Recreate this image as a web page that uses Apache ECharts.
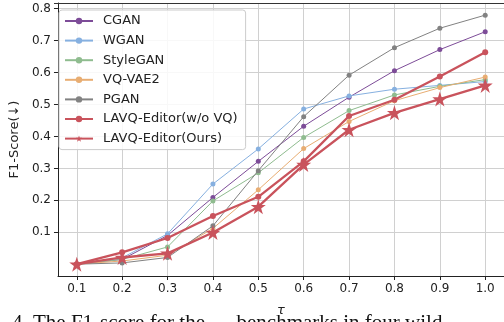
<!DOCTYPE html>
<html>
<head>
<meta charset="utf-8">
<script src="https://cdn.jsdelivr.net/npm/echarts@6/dist/echarts.min.js"></script>
<style>
  html, body { margin: 0; padding: 0; background: #fff; }
  #chart { width: 504px; height: 322px; }
</style>
</head>
<body>
<div id="chart"></div>
<script>
// tau values on the x axis
const taus = [0.1, 0.2, 0.3, 0.4, 0.5, 0.6, 0.7, 0.8, 0.9, 1.0];
const yTicks = [0.1, 0.2, 0.3, 0.4, 0.5, 0.6, 0.7, 0.8];

// F1-score per method
const cgan      = [0.0, 0.015, 0.090, 0.209, 0.322, 0.432, 0.523, 0.606, 0.672, 0.728];
const wgan      = [0.0, 0.020, 0.095, 0.251, 0.361, 0.486, 0.527, 0.548, 0.560, 0.572];
const stylegan  = [0.0, 0.015, 0.054, 0.198, 0.286, 0.397, 0.481, 0.530, 0.557, 0.578];
const vqvae2    = [0.0, 0.010, 0.028, 0.112, 0.233, 0.362, 0.447, 0.512, 0.553, 0.586];
const pgan      = [0.0, 0.004, 0.021, 0.120, 0.293, 0.462, 0.592, 0.678, 0.739, 0.780];
const lavqNoVq  = [0.0, 0.037, 0.082, 0.151, 0.211, 0.322, 0.464, 0.515, 0.588, 0.664];
const lavqOurs  = [0.0, 0.021, 0.034, 0.099, 0.180, 0.312, 0.421, 0.474, 0.517, 0.560];

const names = ['CGAN', 'WGAN', 'StyleGAN', 'VQ-VAE2', 'PGAN', 'LAVQ-Editor(w/o VQ)', 'LAVQ-Editor(Ours)'];
const values = [cgan, wgan, stylegan, vqvae2, pgan, lavqNoVq, lavqOurs];
const colors = ['#7d4c98', '#86b0e0', '#8fbc8f', '#e8ad72', '#828282', '#c9535c', '#c9535c'];

const font = 'DejaVu Sans';
const starPath = 'path://M50,0 L61.8,35.5 L100,35.5 L69.1,57.7 L80.9,93.3 L50,71.2 L19.1,93.3 L30.9,57.7 L0,35.5 L38.2,35.5 Z';

const series = names.map((name, i) => {
  const thick = i >= 5;
  const star = i === 6;
  return {
    name: name,
    type: 'line',
    data: taus.map((t, k) => [t, values[i][k]]),
    symbol: star ? starPath : 'circle',
    symbolSize: star ? 15 : (thick ? 6 : 5),
    showAllSymbol: true,
    lineStyle: { color: colors[i], width: thick ? 2.3 : 1 },
    itemStyle: { color: colors[i] },
    emphasis: { disabled: true },
    z: 2 + i
  };
});

const chart = echarts.init(document.getElementById('chart'));
chart.setOption({
  backgroundColor: '#fff',
  animation: false,
  textStyle: { fontFamily: font },
  grid: { left: 54, top: 3, width: 451, height: 281 },
  xAxis: {
    type: 'value',
    min: 0.0586,
    max: 1.0414,
    name: 'τ',
    nameLocation: 'middle',
    nameGap: 28,
    nameTextStyle: { fontFamily: font, fontSize: 13, color: '#222', fontStyle: 'italic' },
    axisLine: { show: true, onZero: false, lineStyle: { color: '#222', width: 1 } },
    axisTick: { show: true, length: 4, customValues: taus, lineStyle: { color: '#222' } },
    axisLabel: {
      customValues: taus,
      fontFamily: font, fontSize: 12, color: '#222', margin: 7,
      formatter: v => v.toFixed(1)
    },
    splitLine: { show: true, lineStyle: { color: '#d0d0d0', width: 1 } }
  },
  yAxis: {
    type: 'value',
    min: -0.037,
    max: 0.818,
    name: 'F1-Score(↓)',
    nameLocation: 'middle',
    nameGap: 33,
    nameTextStyle: { fontFamily: font, fontSize: 13, color: '#222' },
    axisLine: { show: true, onZero: false, lineStyle: { color: '#222', width: 1 } },
    axisTick: { show: true, length: 4, customValues: yTicks, lineStyle: { color: '#222' } },
    axisLabel: {
      customValues: yTicks,
      fontFamily: font, fontSize: 12, color: '#222', margin: 7,
      formatter: v => v.toFixed(1)
    },
    splitLine: { show: true, lineStyle: { color: '#d0d0d0', width: 1 } }
  },
  legend: {
    data: names,
    orient: 'vertical',
    left: 59,
    top: 10,
    padding: [4, 8, 4, 5],
    itemWidth: 28,
    itemHeight: 8,
    itemGap: 5.6,
    backgroundColor: 'rgba(255,255,255,0.85)',
    borderColor: '#cccccc',
    borderWidth: 1,
    borderRadius: 3,
    textStyle: { fontFamily: font, fontSize: 13, color: '#222', padding: [0, 0, 0, 5], lineHeight: 14 }
  },
  graphic: [
    // top border of the axes box
    {
      type: 'line', z: 10,
      shape: { x1: 54, y1: 3.5, x2: 505, y2: 3.5 },
      style: { stroke: '#333', lineWidth: 1 }
    },
    // clipped caption line below the figure
    {
      type: 'text', z: 10,
      left: 12, top: 313,
      style: {
        text: '4. The F1-score for the      benchmarks in four wild',
        font: '21px "Liberation Serif"',
        fill: '#111'
      }
    }
  ],
  series: series
});
</script>
</body>
</html>
